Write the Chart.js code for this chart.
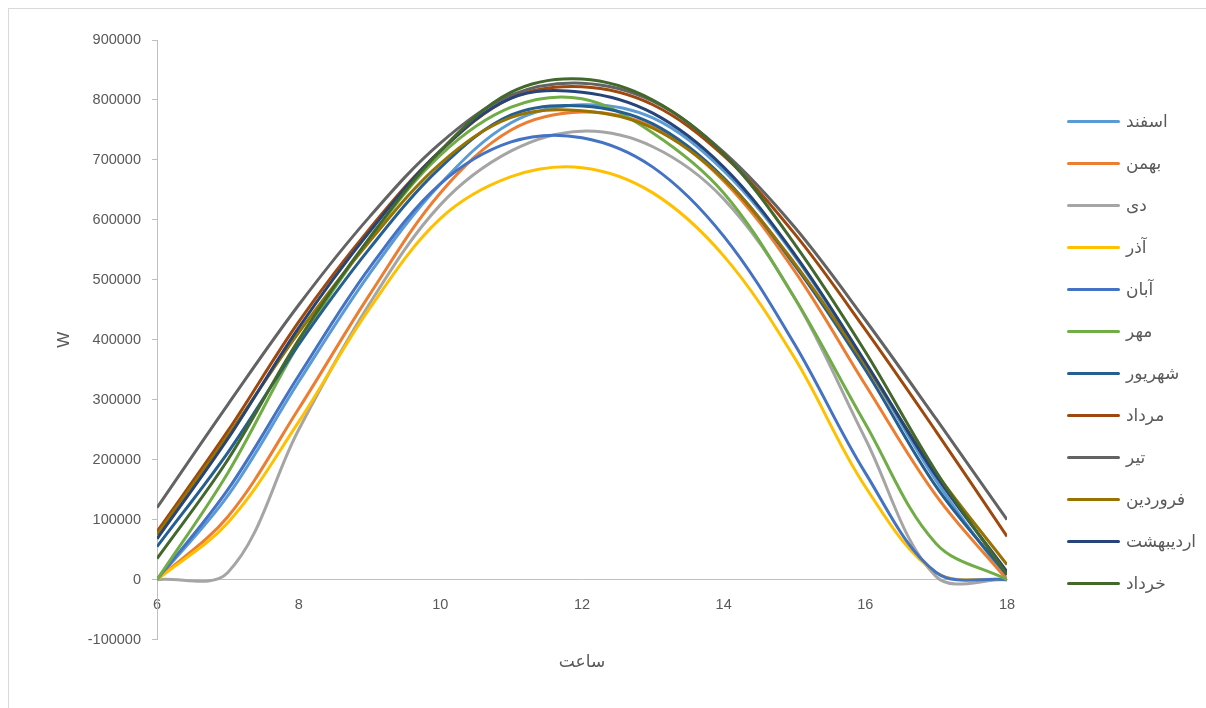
<!DOCTYPE html>
<html lang="fa">
<head>
<meta charset="utf-8">
<title>توان ساعتی</title>
<script src="https://cdn.jsdelivr.net/npm/chart.js@4.4.1/dist/chart.umd.min.js"></script>
<style>
  html, body { margin: 0; padding: 0; background: #fff; overflow: hidden; }
  #frame { position: absolute; left: 8px; top: 8px; width: 1300px; height: 800px; border: 1px solid #d9d9d9; }
  #wrap { position: absolute; left: 0; top: 0; width: 1206px; height: 708px; }
  #legend { position: absolute; left: 1067px; top: 100px; }
  .item { display: flex; align-items: center; height: 42px; }
  .swatch { width: 53px; height: 3px; border-radius: 1.5px; }
  .label { margin-left: 6px; font: 17px 'DejaVu Sans', sans-serif; color: #595959; white-space: nowrap; }
</style>
</head>
<body>
<div id="frame"></div>
<div id="wrap">
  <canvas id="chart" width="1206" height="708"></canvas>
  <div id="legend"></div>
</div>
<script>
  // Horas del día
  const horas = [6, 7, 8, 9, 10, 11, 12, 13, 14, 15, 16, 17, 18];

  // Meses (orden de las series) y colores
  const meses = ['اسفند', 'بهمن', 'دی', 'آذر', 'آبان', 'مهر', 'شهریور', 'مرداد', 'تیر', 'فروردین', 'اردیبهشت', 'خرداد'];
  const colores = ['#5B9BD5', '#ED7D31', '#A5A5A5', '#FFC000', '#4472C4', '#70AD47', '#255E91', '#9E480E', '#636363', '#997300', '#264478', '#43682B'];

  // Potencia por hora (W)
  const esfand      = [0, 140000, 330000, 510000, 660000, 762000, 792000, 770000, 682000, 540000, 360000, 165000, 0];
  const bahman      = [0, 105000, 285000, 475000, 645000, 750000, 780000, 755000, 665000, 515000, 325000, 140000, 0];
  const dey         = [0, 12000, 250000, 460000, 625000, 715000, 748000, 722000, 635000, 470000, 235000, 5000, 0];
  const azar        = [0, 95000, 263000, 452000, 602000, 672000, 687000, 645000, 540000, 370000, 155000, 12000, 0];
  const aban        = [0, 150000, 340000, 520000, 660000, 730000, 737000, 688000, 573000, 393000, 178000, 12000, 0];
  const mehr        = [0, 178000, 393000, 568000, 708000, 788000, 802000, 745000, 645000, 470000, 260000, 60000, 0];
  const shahrivar   = [55000, 212000, 392000, 552000, 687000, 775000, 790000, 760000, 670000, 525000, 350000, 155000, 8000];
  const mordad      = [80000, 248000, 430000, 585000, 715000, 803000, 822000, 792000, 707000, 577000, 417000, 247000, 72000];
  const tir         = [120000, 292000, 458000, 605000, 728000, 808000, 828000, 798000, 713000, 588000, 433000, 268000, 100000];
  const farvardin   = [75000, 240000, 412000, 564000, 694000, 771000, 782000, 753000, 668000, 528000, 358000, 178000, 25000];
  const ordibehesht = [68000, 235000, 420000, 580000, 715000, 803000, 813000, 778000, 688000, 543000, 363000, 173000, 13000];
  const khordad     = [35000, 200000, 400000, 570000, 715000, 813000, 835000, 800000, 710000, 560000, 380000, 180000, 8000];

  const series = [esfand, bahman, dey, azar, aban, mehr, shahrivar, mordad, tir, farvardin, ordibehesht, khordad];

  const textoEjes = '#595959';
  const lineaEjes = '#bfbfbf';
  const fuenteNum = { family: "'Liberation Sans', Arial, sans-serif", size: 14.5 };

  const datasets = series.map((valores, i) => ({
    label: meses[i],
    data: valores.map((v, j) => ({ x: horas[j], y: v })),
    borderColor: colores[i],
    backgroundColor: colores[i],
    borderWidth: 3,
    pointRadius: 0,
    tension: 0.35,
    fill: false,
    // la última serie queda arriba
    order: series.length - 1 - i
  }));

  new Chart(document.getElementById('chart'), {
    type: 'line',
    data: { datasets },
    options: {
      responsive: false,
      animation: false,
      events: [],
      layout: { padding: { left: 50, right: 199, top: 40, bottom: 35 } },
      plugins: {
        legend: { display: false },
        tooltip: { enabled: false },
        title: {
          display: true,
          position: 'bottom',
          fullSize: false,
          text: 'ساعت',
          color: textoEjes,
          font: { family: "'DejaVu Sans', sans-serif", size: 17, weight: 'normal' },
          padding: { top: 13, bottom: 0 }
        }
      },
      scales: {
        x: {
          type: 'linear',
          min: 6,
          max: 18,
          position: { y: 0 },
          grid: { display: false, drawTicks: false },
          border: { color: lineaEjes, width: 1 },
          ticks: { stepSize: 2, padding: 17, color: textoEjes, font: fuenteNum, maxRotation: 0 }
        },
        y: {
          min: -100000,
          max: 900000,
          afterFit: (scale) => { scale.width = 107; },
          grid: { drawOnChartArea: false, tickLength: 5, color: lineaEjes },
          border: { color: lineaEjes, width: 1 },
          ticks: { stepSize: 100000, padding: 11, color: textoEjes, font: fuenteNum, callback: (v) => String(v) },
          title: { display: true, text: 'W', color: textoEjes, font: { family: "'Liberation Sans', Arial, sans-serif", size: 17 } }
        }
      }
    }
  });

  // Leyenda
  const leyenda = document.getElementById('legend');
  meses.forEach((mes, i) => {
    const item = document.createElement('div');
    item.className = 'item';
    item.innerHTML = `<div class="swatch" style="background:${colores[i]}"></div><span class="label" dir="rtl">${mes}</span>`;
    leyenda.appendChild(item);
  });
</script>
</body>
</html>
